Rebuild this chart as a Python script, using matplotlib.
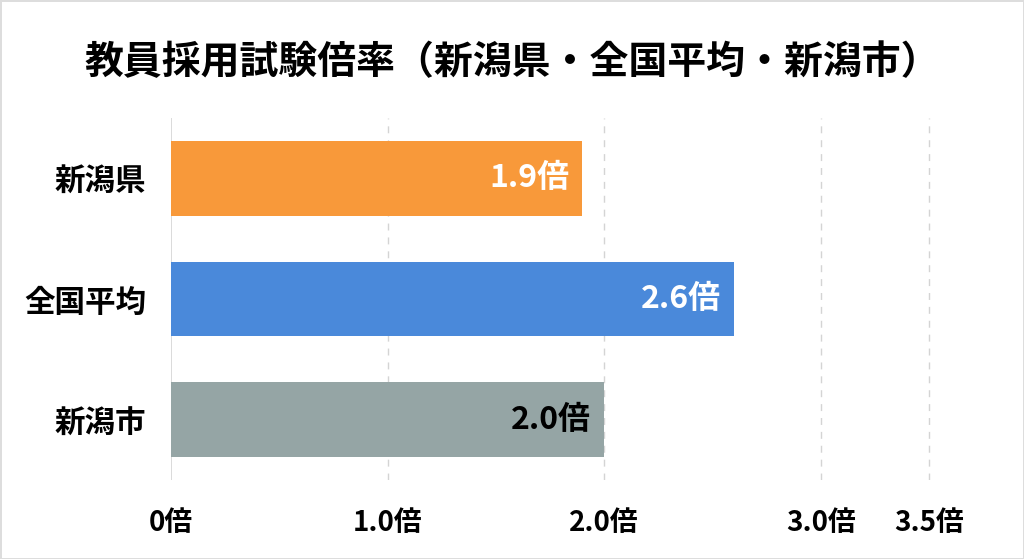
import matplotlib.pyplot as plt

plt.rcParams['font.family'] = ['Noto Sans CJK JP', 'DejaVu Sans']

# データ
categories = ['新潟県', '全国平均', '新潟市']
values = [1.9, 2.6, 2.0]
value_labels = ['1.9倍', '2.6倍', '2.0倍']
tick_values = [0, 1.0, 2.0, 3.0, 3.5]
tick_labels = ['0倍', '1.0倍', '2.0倍', '3.0倍', '3.5倍']

colors = ['#F8993A', '#4A89DA', '#95A5A5']
text_colors = ['white', 'white', 'black']

fig = plt.figure(figsize=(10.24, 5.59), dpi=100)
fig.patch.set_edgecolor('#dddddd')
fig.patch.set_linewidth(2)
ax = fig.add_axes([0.167, 0.141, 0.81, 0.648])

y = range(len(categories))
ax.barh(y, values, height=0.62, color=colors, zorder=2)

# 棒の中の数値
for i, (v, lab) in enumerate(zip(values, value_labels)):
    ax.text(v - 0.06, i, lab, ha='right', va='center', fontsize=23,
            fontweight='bold', color=text_colors[i], zorder=3)

ax.set_xlim(0, 3.83)
ax.set_ylim(2.5, -0.5)

ax.set_yticks(list(y))
ax.set_yticklabels(categories, fontsize=22, fontweight='bold')
ax.set_xticks(tick_values)
ax.set_xticklabels(tick_labels, fontsize=20, fontweight='bold')
ax.tick_params(axis='both', length=0)
ax.tick_params(axis='x', pad=21)
ax.tick_params(axis='y', pad=18)

# グリッド線
for t in tick_values:
    if t == 0:
        ax.axvline(t, color='#d4d4d4', linewidth=1.2, zorder=1)
    else:
        ax.axvline(t, color='#d4d4d4', linewidth=1, linestyle=(0, (5, 5)), zorder=1)

for s in ax.spines.values():
    s.set_visible(False)

fig.suptitle('教員採用試験倍率（新潟県・全国平均・新潟市）', fontsize=28,
             fontweight='bold', y=0.922)

fig.savefig('out.png', dpi=100, edgecolor=fig.get_edgecolor())
